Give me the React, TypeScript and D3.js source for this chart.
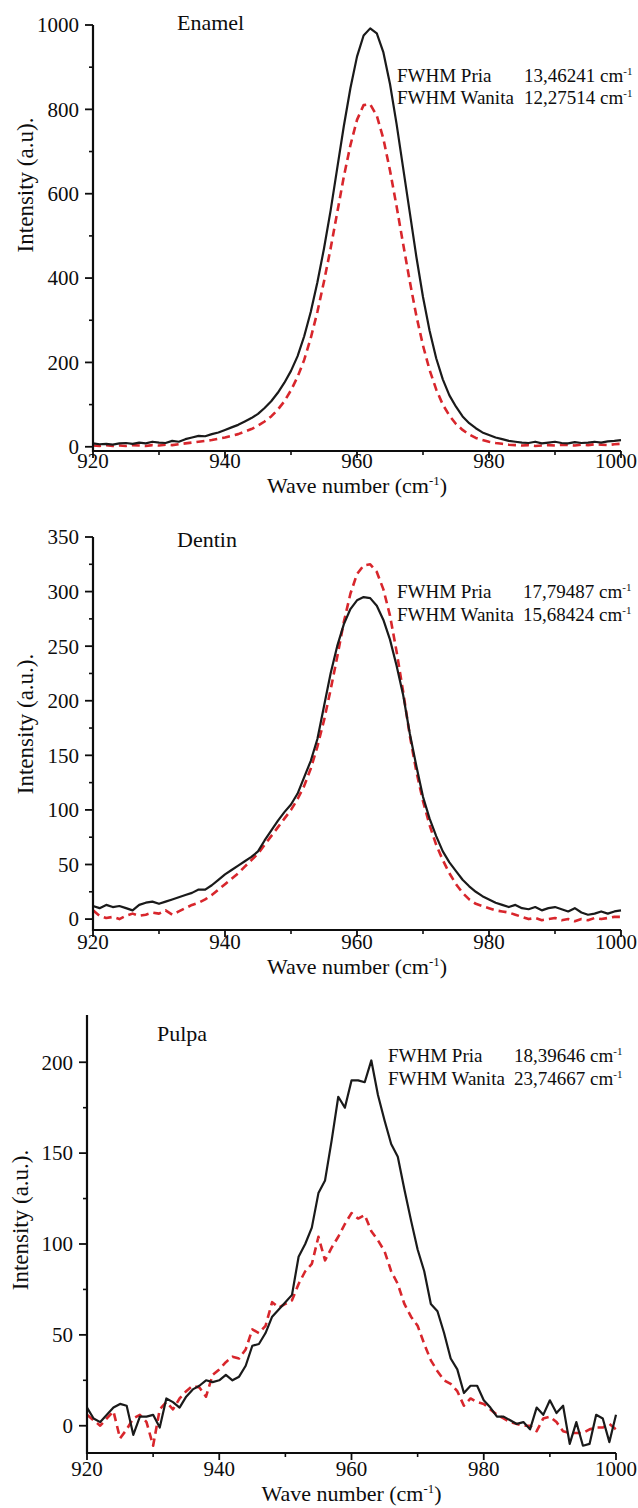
import React from 'react';
import * as d3 from 'd3';

const waveNumbers: number[] = d3.range(920, 1001);
const xTicks = [920, 940, 960, 980, 1000];

// Enamel
const enamelPria = [8, 6, 7, 5, 8, 9, 7, 10, 8, 12, 10, 9, 14, 12, 18, 22, 26, 25, 30, 34, 40, 46, 52, 60, 68, 78, 92, 108, 128, 152, 180, 215, 262, 320, 390, 470, 560, 660, 760, 850, 925, 975, 992, 980, 935, 860, 765, 660, 555, 450, 355, 275, 210, 160, 122, 95, 72, 56, 44, 34, 28, 22, 18, 14, 12, 10, 9, 12, 8, 10, 12, 9, 8, 11, 9, 10, 12, 10, 13, 14, 16];
const enamelWanita = [3, 2, 4, 2, 3, 2, 4, 3, 2, 4, 3, 5, 4, 6, 8, 10, 12, 14, 16, 19, 22, 26, 30, 36, 42, 50, 60, 72, 88, 108, 134, 166, 206, 258, 320, 392, 470, 555, 640, 715, 775, 810, 812, 785, 730, 655, 570, 480, 392, 310, 240, 182, 136, 100, 74, 54, 40, 29, 21, 16, 12, 9, 7, 5, 4, 3, 4, 2, 3, 4, 3, 5, 4, 3, 5, 4, 6, 5, 4, 6, 7];
const enamelTicks = [0, 200, 400, 600, 800, 1000];
const enamelMinor = [100, 300, 500, 700, 900];

// Dentin
const dentinPria = [12, 10, 13, 11, 12, 10, 8, 13, 15, 16, 14, 16, 18, 20, 22, 24, 27, 27, 31, 36, 41, 45, 49, 53, 57, 62, 72, 81, 90, 98, 105, 115, 130, 145, 165, 195, 225, 250, 270, 284, 292, 295, 294, 287, 274, 256, 232, 205, 170, 140, 112, 92, 76, 62, 52, 44, 36, 30, 25, 21, 18, 15, 13, 11, 13, 10, 9, 11, 8, 10, 11, 9, 7, 10, 6, 4, 5, 7, 5, 7, 8];
const dentinWanita = [8, 3, 1, 2, 0, 3, 5, 3, 4, 6, 5, 8, 4, 7, 10, 13, 15, 18, 22, 27, 32, 37, 42, 48, 54, 60, 68, 76, 84, 92, 100, 110, 122, 138, 158, 182, 210, 240, 272, 298, 316, 324, 325, 318, 302, 278, 245, 208, 168, 135, 108, 86, 68, 54, 42, 32, 24, 18, 14, 12, 10, 8, 7, 6, 4, 2, 0, 1, -1, 0, 1, -1, 0, -2, 0, -1, 1, 0, 1, 2, 2];
const dentinTicks = [0, 50, 100, 150, 200, 250, 300, 350];
const dentinMinor = [25, 75, 125, 175, 225, 275, 325];

// Pulpa
const pulpaPria = [10, 4, 2, 6, 10, 12, 11, -5, 5, 5, 6, -1, 15, 13, 10, 16, 20, 22, 25, 24, 25, 28, 25, 27, 33, 44, 45, 51, 60, 64, 68, 72, 93, 100, 109, 128, 135, 157, 181, 175, 190, 190, 189, 201, 182, 168, 155, 148, 130, 113, 97, 85, 67, 63, 51, 37, 31, 18, 22, 22, 14, 10, 5, 5, 3, 1, 2, -2, 10, 6, 14, 7, 11, -10, 2, -11, -10, 6, 4, -9, 6];
const pulpaWanita = [6, 3, 0, 4, 8, -7, -2, 4, 6, 2, -11, 9, 13, 9, 15, 19, 22, 21, 16, 28, 31, 35, 38, 37, 42, 53, 51, 55, 68, 65, 67, 69, 78, 85, 89, 104, 91, 98, 104, 111, 117, 114, 116, 107, 102, 96, 85, 78, 67, 60, 55, 45, 36, 30, 25, 23, 19, 11, 15, 13, 12, 9, 6, 4, 2, 1, 0, 0, -3, 4, 5, 2, -3, -4, -4, -4, -2, -1, -1, 1, -2];
const pulpaTicks = [0, 50, 100, 150, 200];
const pulpaMinor = [25, 75, 125, 175];

const panelTitles = ['Enamel', 'Dentin', 'Pulpa'];
const fwhmPria = ['13,46241', '17,79487', '18,39646'];
const fwhmWanita = ['12,27514', '15,68424', '23,74667'];
const yTitles = ['Intensity (a.u).', 'Intensity (a.u.).', 'Intensity (a.u.).'];

const FONT = "'Liberation Serif', 'Times New Roman', Times, serif";
const INK = '#0d0d0d';
const BLACK = '#1a1a1a';
const RED = '#d8262c';
const TICK_FS = 21;
const TITLE_FS = 22;
const YTITLE_FS = 23;
const ANN_FS = 19;

type Layout = {
  left: number; right: number; top: number; bottom: number;
  yMin: number; yMax: number;
  tickLabelY: number; xTitleY: number;
  yTitleX: number; yTitleY: number;
  titleX: number; titleY: number;
  annX: number; annValX: number; annY1: number; annY2: number;
};

const layouts: Layout[] = [
  { left: 93, right: 621, top: 25, bottom: 451, yMin: -10, yMax: 1000, tickLabelY: 468, xTitleY: 493,
    yTitleX: 33, yTitleY: 185, titleX: 177, titleY: 30, annX: 397, annValX: 524, annY1: 82, annY2: 104 },
  { left: 93, right: 621, top: 537, bottom: 930, yMin: -10, yMax: 350, tickLabelY: 949, xTitleY: 974,
    yTitleX: 33, yTitleY: 724, titleX: 177, titleY: 547, annX: 397, annValX: 523, annY1: 598, annY2: 621 },
  { left: 87, right: 616, top: 1015, bottom: 1453, yMin: -15, yMax: 226, tickLabelY: 1476, xTitleY: 1501,
    yTitleX: 28, yTitleY: 1220, titleX: 157, titleY: 1041, annX: 388, annValX: 514, annY1: 1062, annY2: 1085 },
];

const seriesPria = [enamelPria, dentinPria, pulpaPria];
const seriesWanita = [enamelWanita, dentinWanita, pulpaWanita];
const majorTicks = [enamelTicks, dentinTicks, pulpaTicks];
const minorTicks = [enamelMinor, dentinMinor, pulpaMinor];

function CmUnit({ size }: { size: number }) {
  return (
    <>
      <tspan>cm</tspan>
      <tspan fontSize={size * 0.58} dy={-size * 0.38}>-1</tspan>
    </>
  );
}

function Panel({ idx }: { idx: number }) {
  const L = layouts[idx];
  const x = d3.scaleLinear().domain([920, 1000]).range([L.left, L.right]);
  const y = d3.scaleLinear().domain([L.yMin, L.yMax]).range([L.bottom, L.top]);
  const line = d3.line<number>().x((_, i) => x(waveNumbers[i])).y((d) => y(d));
  const xMinor = d3.range(930, 1000, 20);
  return (
    <g fontFamily={FONT} fill={INK}>
      <path d={line(seriesWanita[idx]) || ''} fill="none" stroke={RED} strokeWidth={2.6} strokeDasharray="8,5" strokeLinejoin="round" />
      <path d={line(seriesPria[idx]) || ''} fill="none" stroke={BLACK} strokeWidth={2.2} strokeLinejoin="round" />
      {/* axes */}
      <line x1={L.left} x2={L.left} y1={L.top} y2={L.bottom + 1} stroke={INK} strokeWidth={2.2} />
      <line x1={L.left - 1} x2={L.right} y1={L.bottom} y2={L.bottom} stroke={INK} strokeWidth={2.2} />
      {majorTicks[idx].map((t) => (
        <g key={'ym' + t}>
          <line x1={L.left - 8} x2={L.left} y1={y(t)} y2={y(t)} stroke={INK} strokeWidth={1.8} />
          <text x={L.left - 14} y={y(t)} dy="0.35em" textAnchor="end" fontSize={TICK_FS}>{t}</text>
        </g>
      ))}
      {minorTicks[idx].map((t) => (
        <line key={'yn' + t} x1={L.left - 4} x2={L.left} y1={y(t)} y2={y(t)} stroke={INK} strokeWidth={1.6} />
      ))}
      {xTicks.map((t) => {
        const px = x(t);
        const overflow = px + 23 > 637;
        return (
          <g key={'xm' + t}>
            <line x1={px} x2={px} y1={L.bottom} y2={L.bottom + 7} stroke={INK} strokeWidth={1.8} />
            <text x={overflow ? 637 : px} y={L.tickLabelY} textAnchor={overflow ? 'end' : 'middle'} fontSize={TICK_FS}>{t}</text>
          </g>
        );
      })}
      {xMinor.map((t) => (
        <line key={'xn' + t} x1={x(t)} x2={x(t)} y1={L.bottom} y2={L.bottom + 4} stroke={INK} strokeWidth={1.6} />
      ))}
      <text x={(L.left + L.right) / 2} y={L.xTitleY} textAnchor="middle" fontSize={TITLE_FS}>
        <tspan>Wave number (</tspan>
        <CmUnit size={TITLE_FS} />
        <tspan dy={TITLE_FS * 0.38}>)</tspan>
      </text>
      <text transform={`translate(${L.yTitleX},${L.yTitleY}) rotate(-90)`} textAnchor="middle" fontSize={YTITLE_FS}>
        {yTitles[idx]}
      </text>
      <text x={L.titleX} y={L.titleY} fontSize={TITLE_FS}>{panelTitles[idx]}</text>
      <text x={L.annX} y={L.annY1} fontSize={ANN_FS}>FWHM Pria</text>
      <text x={L.annValX} y={L.annY1} fontSize={ANN_FS}>
        <tspan>{fwhmPria[idx]} </tspan>
        <CmUnit size={ANN_FS} />
      </text>
      <text x={L.annX} y={L.annY2} fontSize={ANN_FS}>FWHM Wanita</text>
      <text x={L.annValX} y={L.annY2} fontSize={ANN_FS}>
        <tspan>{fwhmWanita[idx]} </tspan>
        <CmUnit size={ANN_FS} />
      </text>
    </g>
  );
}

export default function App() {
  return (
    <svg width={638} height={1508} style={{ position: 'absolute', left: 0, top: 0, background: '#fff' }}>
      <rect width={638} height={1508} fill="#fff" />
      {[0, 1, 2].map((i) => (
        <Panel key={i} idx={i} />
      ))}
    </svg>
  );
}
